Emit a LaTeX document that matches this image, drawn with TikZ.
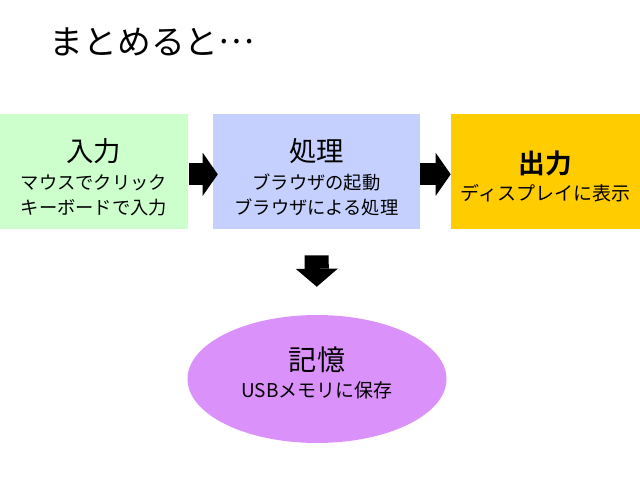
\documentclass[tikz,border=0pt]{standalone}
\usepackage{fontspec}
\setmainfont{Noto Sans CJK JP}[BoldFont={Noto Sans CJK JP Bold}]
\usetikzlibrary{arrows.meta,shapes.geometric}

\definecolor{ingreen}{RGB}{204,255,204}
\definecolor{problue}{RGB}{197,208,255}
\definecolor{outyellow}{RGB}{255,204,0}
\definecolor{memviolet}{RGB}{218,146,250}

\begin{document}
\begin{tikzpicture}[x=0.025cm,y=-0.025cm,
                    box/.style={rectangle,inner sep=0pt,minimum height=81.8pt},
                    boxtext/.style={inner sep=0pt,align=center,
                      font=\fontsize{13}{18}\selectfont},
                    blockarrow/.style={line width=15.6pt,
                      -{Triangle[length=10.7pt,width=30.6pt,line width=0pt]}}]
  \useasboundingbox (0,0) rectangle (640,480);

  \node[anchor=west,font=\fontsize{24}{28}\selectfont] (title) at (45,42)
       {まとめると\raisebox{0.33em}{…}};

  % boxes
  \node[box,fill=ingreen,minimum width=133.7pt]   (in)   at (94,171.5)    {};
  \node[box,fill=problue,minimum width=147.2pt]   (proc) at (316.5,171.5) {};
  \node[box,fill=outyellow,minimum width=134.4pt] (out)  at (545.5,171.5) {};
  \node[ellipse,inner sep=0pt,fill=memviolet,
        minimum width=184.2pt,minimum height=91pt] (mem) at (317,379) {};

  % texts
  \node[boxtext] (intext)   at ([yshift=-4pt]in.center)
       {{\fontsize{19.5}{22}\selectfont 入力}\\[2pt]マウスでクリック\\キーボードで入力};
  \node[boxtext] (proctext) at ([yshift=-4pt]proc.center)
       {{\fontsize{19.5}{22}\selectfont 処理}\\[2pt]ブラウザの起動\\ブラウザによる処理};
  \node[boxtext,font=\fontsize{13.5}{19}\selectfont] (outtext) at ([yshift=-3.3pt]out.center)
       {{\fontsize{19}{22}\selectfont\bfseries 出力}\\ディスプレイに表示};
  \node[boxtext,font=\fontsize{13.5}{19}\selectfont] (memtext) at ([yshift=4.2pt]mem.center)
       {{\fontsize{20}{22}\selectfont 記憶}\\USBメモリに保存};

  % arrows
  \draw[blockarrow,shorten <=0.7pt,shorten >=-3.6pt]
       ([yshift=-2pt]in.east) -- ([yshift=-2pt]proc.west);
  \draw[blockarrow] ([yshift=-2pt]proc.east) -- ([yshift=-2pt]out.west);
  \draw[line width=17.1pt,-{Triangle[length=12.8pt,width=29.9pt,line width=0pt]},
        shorten <=18.5pt,shorten >=19.9pt] (proc) -- (mem);
\end{tikzpicture}
\end{document}
